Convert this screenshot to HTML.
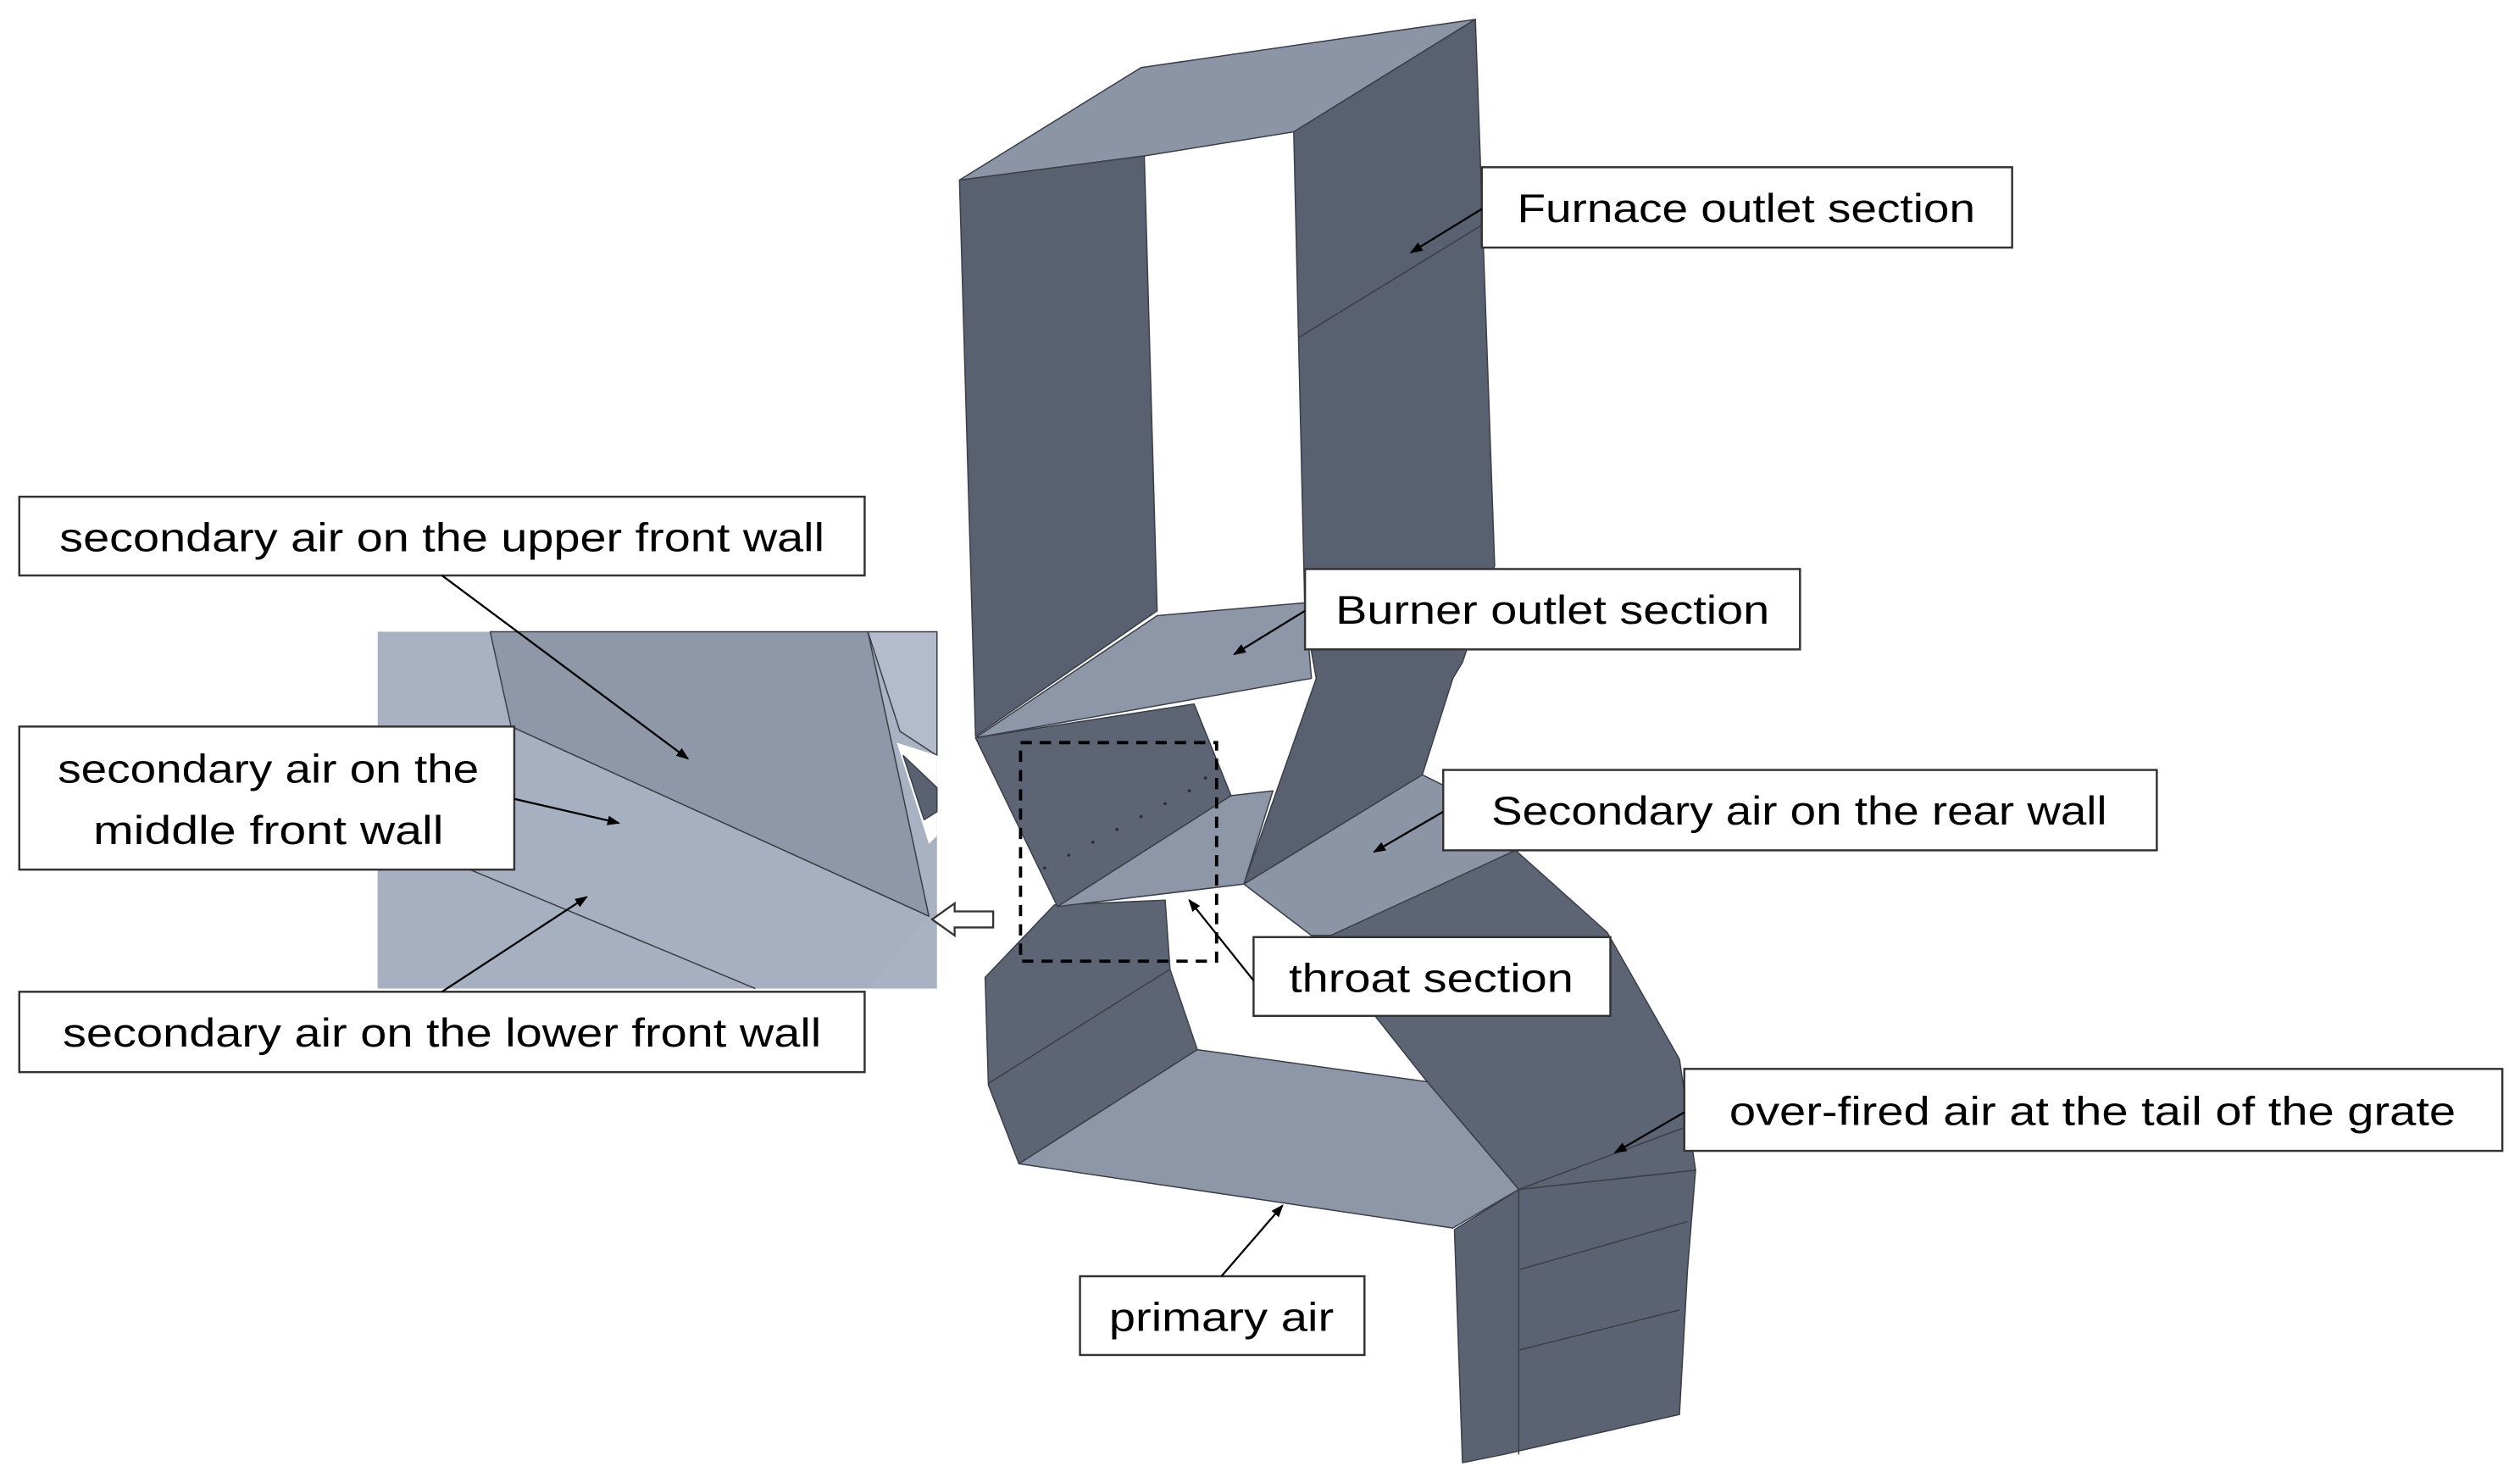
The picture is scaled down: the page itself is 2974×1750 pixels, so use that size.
<!DOCTYPE html>
<html><head><meta charset="utf-8"><style>
html,body{margin:0;padding:0;background:#fff;}
svg{display:block;}
text{font-family:"Liberation Sans",sans-serif;font-size:25px;fill:#000;}
</style></head><body>
<svg width="2974" height="1750" viewBox="0 0 1568 922.6" xmlns="http://www.w3.org/2000/svg">
<defs><marker id="a" markerWidth="8" markerHeight="8" refX="7" refY="4" orient="auto" markerUnits="userSpaceOnUse"><path d="M0,1 L8,4 L0,7z" fill="#000"/></marker></defs>
<g stroke="#3a3f48" stroke-width="0.8" stroke-linejoin="round">
<!-- inset -->
<rect x="235" y="393" width="348" height="222" fill="#a9b2c2" stroke="none"/>
<polygon points="305,393 540,393 578,570 318,452" fill="#8f98a8"/>
<polygon points="540,393 583,393 583,470 560,455" fill="#b4bccb"/>
<polygon points="558,462 583,470 583,520 578,525" fill="#ffffff" stroke="none"/>
<polygon points="562,470 583,490 583,505 575,510" fill="#5a6271"/>
<polygon points="318,452 578,570 540,615 235,615 235,460" fill="#a7b0c0" stroke="none"/>
<line x1="318" y1="452" x2="578" y2="570"/>
<line x1="290" y1="540" x2="470" y2="615"/>
<!-- lower tail -->
<polygon points="905,765 945,740 1055,728 1050,790 1045,880 935,905 910,910" fill="#5b6372"/>
<line x1="945" y1="740" x2="945" y2="905"/>
<line x1="945" y1="790" x2="1050" y2="760"/>
<line x1="945" y1="840" x2="1045" y2="815"/>
<!-- rear slope -->
<polygon points="816,582 943,529 1000,580 1045,659 1055,728 945,740 888,673" fill="#5d6574"/>
<line x1="945" y1="740" x2="1052" y2="700"/>
<polygon points="774,550 885,482 905,492 943,529 828,582 816,582" fill="#8c95a5"/>
<!-- lower U -->
<polygon points="613,608 656,563 725,560 728,603 745,653 634,724 615,675" fill="#5d6574"/>
<line x1="615" y1="674" x2="728" y2="603"/>
<polygon points="634,724 745,653 888,673 945,740 904,764" fill="#8e97a7"/>
<!-- upper box -->
<polygon points="597,112 710,42 918,12 805,82 712,97" fill="#8c95a5"/>
<polygon points="597,112 712,97 720,380 607,458" fill="#596170"/>
<polygon points="805,82 918,12 930,352 910,412 904,422 885,482 774,550 819,422 812,383" fill="#596170"/>
<line x1="808" y1="210" x2="922" y2="140"/>
<polygon points="607,459 720,383 812,375 816,422" fill="#8e97a7"/>
<!-- throat -->
<polygon points="607,459 743,438 766,495 658,564" fill="#5d6574"/>
<polygon points="658,564 766,495 792,492 774,550" fill="#8e97a7"/>
</g>
<g fill="#2a2e36">
<circle cx="650" cy="540" r="1"/><circle cx="665" cy="532" r="1"/><circle cx="680" cy="524" r="1"/><circle cx="695" cy="516" r="1"/><circle cx="710" cy="508" r="1"/><circle cx="725" cy="500" r="1"/><circle cx="740" cy="492" r="1"/><circle cx="750" cy="484" r="1"/>
</g>
<rect x="635" y="462" width="122" height="136" fill="none" stroke="#000" stroke-width="2" stroke-dasharray="7,5"/>
<polygon points="580,572 594,562 594,567 618,567 618,577 594,577 594,582" fill="#fff" stroke="#333" stroke-width="1.2"/>
<g fill="#fff" stroke="#333" stroke-width="1.3">
<rect x="922" y="104" width="330" height="50"/>
<rect x="812" y="354" width="308" height="50"/>
<rect x="898" y="479" width="444" height="50"/>
<rect x="780" y="583" width="222" height="49"/>
<rect x="1048" y="665" width="509" height="51"/>
<rect x="672" y="794" width="177" height="49"/>
<rect x="12" y="309" width="526" height="49"/>
<rect x="12" y="452" width="308" height="89"/>
<rect x="12" y="617" width="526" height="50"/>
</g>
<g stroke="#000" stroke-width="1.2" marker-end="url(#a)">
<line x1="922" y1="130" x2="878" y2="157"/>
<line x1="812" y1="380" x2="768" y2="407"/>
<line x1="898" y1="505" x2="855" y2="530"/>
<line x1="780" y1="610" x2="740" y2="560"/>
<line x1="1048" y1="692" x2="1005" y2="717"/>
<line x1="760" y1="794" x2="798" y2="750"/>
<line x1="275" y1="358" x2="428" y2="472"/>
<line x1="320" y1="497" x2="385" y2="512"/>
<line x1="275" y1="617" x2="365" y2="558"/>
</g>
<text x="944" y="138" textLength="285" lengthAdjust="spacingAndGlyphs">Furnace outlet section</text>
<text x="831" y="388" textLength="270" lengthAdjust="spacingAndGlyphs">Burner outlet section</text>
<text x="928" y="513" textLength="383" lengthAdjust="spacingAndGlyphs">Secondary air on the rear wall</text>
<text x="802" y="617" textLength="177" lengthAdjust="spacingAndGlyphs">throat section</text>
<text x="1076" y="700" textLength="452" lengthAdjust="spacingAndGlyphs">over-fired air at the tail of the grate</text>
<text x="690" y="828" textLength="140" lengthAdjust="spacingAndGlyphs">primary air</text>
<text x="37" y="343" textLength="476" lengthAdjust="spacingAndGlyphs">secondary air on the upper front wall</text>
<text x="36" y="487" textLength="262" lengthAdjust="spacingAndGlyphs">secondary air on the</text>
<text x="58" y="525" textLength="218" lengthAdjust="spacingAndGlyphs">middle front wall</text>
<text x="39" y="651" textLength="472" lengthAdjust="spacingAndGlyphs">secondary air on the lower front wall</text>
</svg>
</body></html>
